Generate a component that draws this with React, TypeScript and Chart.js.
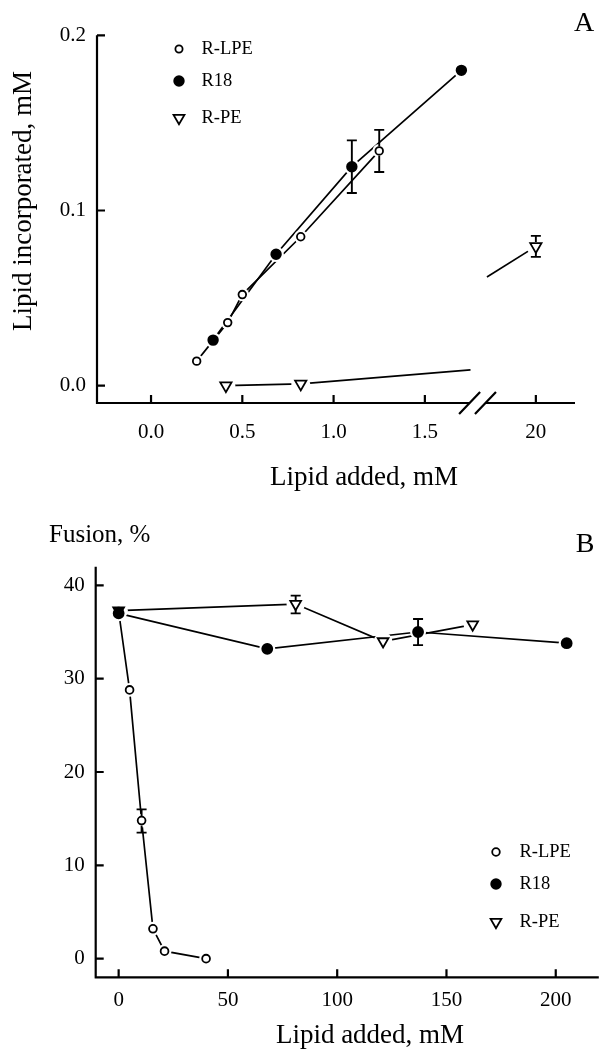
import React, { useEffect, useRef } from 'react';
import { Chart, registerables, LinearScale } from 'chart.js';

Chart.register(...registerables);

const FONT = '"Liberation Serif", "Times New Roman", Times, serif';
const SERIES_LABELS = ['R-LPE', 'R18', 'R-PE'];

// ---------------- Panel A data ----------------
const A_LPE_X = [0.25, 0.42, 0.5, 0.82, 1.25];
const A_LPE_Y = [0.014, 0.036, 0.052, 0.085, 0.134];
const A_R18_X = [0.34, 0.685, 1.1, 1.7];
const A_R18_Y = [0.026, 0.075, 0.125, 0.18];
const A_RPE_X = [0.41, 0.82, 20];
const A_RPE_Y = [0.0, 0.001, 0.0795];
const A_RPE_FIT_LEFT_X = [0.82, 1.75];
const A_RPE_FIT_LEFT_Y = [0.001, 0.009];
const A_RPE_FIT_RIGHT_X = [10, 20];
const A_RPE_FIT_RIGHT_Y = [0.062, 0.0795];
const A_ERR_X = [1.1, 1.25, 20];
const A_ERR_Y = [0.125, 0.134, 0.0795];
const A_ERR_D = [0.015, 0.012, 0.006];
const A_X_TICKS = [0, 0.5, 1.0, 1.5, 20];
const A_X_TICK_LABELS = ['0.0', '0.5', '1.0', '1.5', '20'];
const A_Y_TICKS = [0, 0.1, 0.2];
const A_Y_TICK_LABELS = ['0.0', '0.1', '0.2'];
const A_BREAK_GAP = [1.745, 9.7];
const A_X_RANGE = [-0.296, 28];

// ---------------- Panel B data ----------------
const B_LPE_X = [0, 5, 10.5, 15.7, 21, 40];
const B_LPE_Y = [37.2, 28.8, 14.8, 3.2, 0.8, 0.0];
const B_R18_X = [0, 68, 137, 205];
const B_R18_Y = [37.0, 33.2, 35.0, 33.8];
const B_RPE_X = [0, 81, 121, 162];
const B_RPE_Y = [37.3, 38.0, 34.0, 35.8];
const B_ERR_X = [10.5, 81, 137];
const B_ERR_Y = [14.75, 37.95, 35.0];
const B_ERR_D = [1.25, 0.95, 1.4];
const B_X_TICKS = [0, 50, 100, 150, 200];
const B_Y_TICKS = [0, 10, 20, 30, 40];

// ---------------- broken x scale (panel A) ----------------
const A_BREAK_AT = 1.78;
const A_X20_POS = 2.108;
const A_RIGHT_SCALE = 0.0268;
function brokenMap(v: number): number {
  return v <= A_BREAK_AT ? v : A_X20_POS + (v - 20) * A_RIGHT_SCALE;
}

class BrokenLinearScale extends (LinearScale as any) {
  static id = 'brokenLinear';
  static defaults = (LinearScale as any).defaults;
  parse(raw: any, index: number) {
    const v = super.parse(raw, index);
    return v === null || v === undefined ? v : brokenMap(v as number);
  }
}
Chart.register(BrokenLinearScale as any);

const pairs = (xs: number[], ys: number[]) => xs.map((x, i) => ({ x, y: ys[i] }));

type Kind = 'open' | 'filled' | 'tri';
const MARKER_BORDER = 1.8;

function seriesDatasets(
  lines: { x: number; y: number }[][],
  pts: { x: number; y: number }[],
  kind: Kind,
  r: number,
  top: number,
  fills?: string[]
) {
  const ds: any[] = [];
  lines.forEach((l) =>
    ds.push({
      data: l,
      showLine: true,
      borderColor: '#000',
      borderWidth: 1.7,
      pointRadius: 0,
      fill: false,
      clip: false,
      order: 10,
    })
  );
  ds.push({
    data: pts,
    showLine: false,
    pointRadius: r + 3,
    pointStyle: 'circle',
    pointBackgroundColor: '#fff',
    pointBorderColor: '#fff',
    pointBorderWidth: 0,
    clip: false,
    order: 5,
  });
  ds.push({
    data: pts,
    showLine: false,
    pointRadius: r,
    pointStyle: kind === 'tri' ? 'triangle' : 'circle',
    pointRotation: kind === 'tri' ? 180 : 0,
    pointBackgroundColor: fills ?? (kind === 'filled' ? '#000' : '#fff'),
    pointBorderColor: '#000',
    pointBorderWidth: MARKER_BORDER,
    clip: false,
    order: top,
  });
  return ds;
}

function drawMarker(ctx: CanvasRenderingContext2D, kind: Kind, x: number, y: number, r: number) {
  ctx.beginPath();
  if (kind === 'tri') {
    for (let k = 0; k < 3; k++) {
      const a = Math.PI + (k * 2 * Math.PI) / 3;
      const px = x + Math.sin(a) * r;
      const py = y - Math.cos(a) * r;
      if (k === 0) ctx.moveTo(px, py);
      else ctx.lineTo(px, py);
    }
    ctx.closePath();
  } else {
    ctx.arc(x, y, r, 0, Math.PI * 2);
  }
  ctx.fillStyle = kind === 'filled' ? '#000' : '#fff';
  ctx.fill();
  ctx.lineWidth = MARKER_BORDER;
  ctx.strokeStyle = '#000';
  ctx.stroke();
}

interface TextItem {
  text: string;
  x: number;
  y: number;
  size: number;
  align?: CanvasTextAlign;
  rotate?: boolean;
}

interface PanelCfg {
  name: string;
  breakGap?: number[];
  errX: number[];
  errY: number[];
  errD: number[];
  legend: { x: number; textX: number; ys: number[]; kinds: Kind[]; radii: number[]; size: number };
  texts: TextItem[];
}

function makePanelPlugin(cfg: PanelCfg) {
  return {
    id: 'panel' + cfg.name,
    afterDraw(chart: any) {
      const ctx: CanvasRenderingContext2D = chart.ctx;
      const ca = chart.chartArea;
      const xs = chart.scales.x;
      const ys = chart.scales.y;
      ctx.save();
      ctx.strokeStyle = '#000';
      ctx.lineWidth = 2.2;
      ctx.lineCap = 'butt';
      ctx.beginPath();
      ctx.moveTo(ca.left, ca.top);
      ctx.lineTo(ca.left, ca.bottom + 1);
      if (cfg.breakGap) {
        const g0 = xs.getPixelForValue(xs.parse(cfg.breakGap[0]));
        const g1 = xs.getPixelForValue(xs.parse(cfg.breakGap[1]));
        ctx.moveTo(ca.left - 1, ca.bottom);
        ctx.lineTo(g0, ca.bottom);
        ctx.moveTo(g1, ca.bottom);
        ctx.lineTo(ca.right, ca.bottom);
        [g0, g1].forEach((g) => {
          ctx.moveTo(g - 10.5, ca.bottom + 11);
          ctx.lineTo(g + 10.5, ca.bottom - 11);
        });
      } else {
        ctx.moveTo(ca.left - 1, ca.bottom);
        ctx.lineTo(ca.right, ca.bottom);
      }
      xs.ticks.forEach((t: any) => {
        const p = xs.getPixelForValue(t.value);
        ctx.moveTo(p, ca.bottom);
        ctx.lineTo(p, ca.bottom - 8);
      });
      ys.ticks.forEach((t: any) => {
        const p = ys.getPixelForValue(t.value);
        ctx.moveTo(ca.left, p);
        ctx.lineTo(ca.left + 8, p);
      });
      ctx.stroke();

      // error bars
      ctx.lineWidth = 1.9;
      ctx.beginPath();
      cfg.errX.forEach((ex, i) => {
        const px = xs.getPixelForValue(xs.parse(ex));
        const pc = ys.getPixelForValue(cfg.errY[i]);
        const p1 = ys.getPixelForValue(cfg.errY[i] + cfg.errD[i]);
        const p2 = ys.getPixelForValue(cfg.errY[i] - cfg.errD[i]);
        const gap = 4.5;
        ctx.moveTo(px, p1);
        ctx.lineTo(px, Math.min(pc - gap, p2));
        ctx.moveTo(px, Math.max(pc + gap, p1));
        ctx.lineTo(px, p2);
        ctx.moveTo(px - 5, p1);
        ctx.lineTo(px + 5, p1);
        ctx.moveTo(px - 5, p2);
        ctx.lineTo(px + 5, p2);
      });
      ctx.stroke();

      // legend
      const lg = cfg.legend;
      ctx.font = `${lg.size}px ${FONT}`;
      ctx.textBaseline = 'middle';
      ctx.textAlign = 'left';
      SERIES_LABELS.forEach((lab, i) => {
        drawMarker(ctx, lg.kinds[i], lg.x, lg.ys[i], lg.radii[i]);
        ctx.fillStyle = '#000';
        ctx.fillText(lab, lg.textX, lg.ys[i]);
      });

      // texts
      cfg.texts.forEach((t) => {
        ctx.save();
        ctx.font = `${t.size}px ${FONT}`;
        ctx.fillStyle = '#000';
        ctx.textBaseline = 'middle';
        ctx.textAlign = t.align ?? 'center';
        ctx.translate(t.x, t.y);
        if (t.rotate) ctx.rotate(-Math.PI / 2);
        ctx.fillText(t.text, 0, 0);
        ctx.restore();
      });
      ctx.restore();
    },
  };
}

const tickFont = { family: FONT, size: 21 };

function configA(): any {
  const datasets = [
    ...seriesDatasets([pairs(A_R18_X, A_R18_Y)], pairs(A_R18_X, A_R18_Y), 'filled', 4.8, 0),
    ...seriesDatasets([pairs(A_LPE_X, A_LPE_Y)], pairs(A_LPE_X, A_LPE_Y), 'open', 3.8, 1),
    ...seriesDatasets(
      [
        pairs([A_RPE_X[0], ...A_RPE_FIT_LEFT_X], [A_RPE_Y[0], ...A_RPE_FIT_LEFT_Y]),
        pairs(A_RPE_FIT_RIGHT_X, A_RPE_FIT_RIGHT_Y),
      ],
      pairs(A_RPE_X, A_RPE_Y),
      'tri',
      6.5,
      2
    ),
  ];
  return {
    type: 'scatter',
    data: { datasets },
    options: {
      animation: false,
      responsive: false,
      devicePixelRatio: 1,
      events: [],
      layout: { padding: { top: 35.3, right: 33, left: 0, bottom: 0 } },
      plugins: { legend: { display: false }, tooltip: { enabled: false } },
      scales: {
        x: {
          type: 'brokenLinear',
          bounds: 'data',
          afterDataLimits: (s: any) => {
            s.min = s.parse(A_X_RANGE[0]);
            s.max = s.parse(A_X_RANGE[1]);
          },
          afterBuildTicks: (s: any) => {
            s.min = s.parse(A_X_RANGE[0]);
            s.max = s.parse(A_X_RANGE[1]);
            s.ticks = A_X_TICKS.map((v) => ({ value: s.parse(v) }));
          },
          afterFit: (s: any) => {
            s.height = 97;
          },
          grid: { display: false, drawTicks: false },
          border: { display: false },
          ticks: {
            font: tickFont,
            color: '#000',
            padding: 17,
            autoSkip: false,
            maxRotation: 0,
            callback: (_v: any, i: number) => A_X_TICK_LABELS[i],
          },
        },
        y: {
          type: 'linear',
          min: -0.0099,
          max: 0.2,
          afterBuildTicks: (s: any) => {
            s.ticks = A_Y_TICKS.map((v) => ({ value: v }));
          },
          afterFit: (s: any) => {
            s.width = 97;
          },
          grid: { display: false, drawTicks: false },
          border: { display: false },
          ticks: {
            font: tickFont,
            color: '#000',
            padding: 11,
            autoSkip: false,
            callback: (_v: any, i: number) => A_Y_TICK_LABELS[i],
          },
        },
      },
    },
    plugins: [
      makePanelPlugin({
        name: 'A',
        breakGap: A_BREAK_GAP,
        errX: A_ERR_X,
        errY: A_ERR_Y,
        errD: A_ERR_D,
        legend: { x: 179, textX: 201.5, ys: [49, 81, 118], kinds: ['open', 'filled', 'tri'], radii: [3.6, 4.8, 6.3], size: 18.5 },
        texts: [
          { text: 'A', x: 584, y: 24, size: 28 },
          { text: 'Lipid incorporated, mM', x: 24, y: 201, size: 27, rotate: true },
          { text: 'Lipid added, mM', x: 364, y: 478, size: 27 },
        ],
      }),
    ],
  };
}

function configB(): any {
  const datasets = [
    ...seriesDatasets([pairs(B_R18_X, B_R18_Y)], pairs(B_R18_X, B_R18_Y), 'filled', 5, 0),
    ...seriesDatasets([pairs(B_LPE_X, B_LPE_Y)], pairs(B_LPE_X, B_LPE_Y), 'open', 3.9, 1),
    ...seriesDatasets([pairs(B_RPE_X, B_RPE_Y)], pairs(B_RPE_X, B_RPE_Y), 'tri', 6.2, 2, ['#000', '#fff', '#fff', '#fff']),
  ];
  return {
    type: 'scatter',
    data: { datasets },
    options: {
      animation: false,
      responsive: false,
      devicePixelRatio: 1,
      events: [],
      layout: { padding: { top: 66.7, right: 0, left: 0, bottom: 0 } },
      plugins: { legend: { display: false }, tooltip: { enabled: false } },
      scales: {
        x: {
          type: 'linear',
          min: -10.5,
          max: 219.7,
          afterBuildTicks: (s: any) => {
            s.ticks = B_X_TICKS.map((v) => ({ value: v }));
          },
          afterFit: (s: any) => {
            s.height = 71.7;
          },
          grid: { display: false, drawTicks: false },
          border: { display: false },
          ticks: {
            font: tickFont,
            color: '#000',
            padding: 11,
            autoSkip: false,
            maxRotation: 0,
            callback: (_v: any, i: number) => String(B_X_TICKS[i]),
          },
        },
        y: {
          type: 'linear',
          min: -2,
          max: 42,
          afterBuildTicks: (s: any) => {
            s.ticks = B_Y_TICKS.map((v) => ({ value: v }));
          },
          afterFit: (s: any) => {
            s.width = 95.7;
          },
          grid: { display: false, drawTicks: false },
          border: { display: false },
          ticks: {
            font: tickFont,
            color: '#000',
            padding: 11,
            autoSkip: false,
            callback: (_v: any, i: number) => String(B_Y_TICKS[i]),
          },
        },
      },
    },
    plugins: [
      makePanelPlugin({
        name: 'B',
        errX: B_ERR_X,
        errY: B_ERR_Y,
        errD: B_ERR_D,
        legend: { x: 496, textX: 519.5, ys: [352, 384, 422], kinds: ['open', 'filled', 'tri'], radii: [3.8, 4.8, 6.2], size: 18.5 },
        texts: [
          { text: 'B', x: 585, y: 45, size: 28 },
          { text: 'Fusion, %', x: 49, y: 35, size: 25, align: 'left' },
          { text: 'Lipid added, mM', x: 370, y: 536, size: 27 },
        ],
      }),
    ],
  };
}

export default function App() {
  const refA = useRef<HTMLCanvasElement>(null);
  const refB = useRef<HTMLCanvasElement>(null);
  useEffect(() => {
    const a = new Chart(refA.current as HTMLCanvasElement, configA());
    const b = new Chart(refB.current as HTMLCanvasElement, configB());
    return () => {
      a.destroy();
      b.destroy();
    };
  }, []);
  return (
    <div style={{ position: 'absolute', left: 0, top: 0, width: 608, height: 1049, background: '#fff' }}>
      <canvas ref={refA} width={608} height={500} style={{ position: 'absolute', left: 0, top: 0 }} />
      <canvas ref={refB} width={608} height={549} style={{ position: 'absolute', left: 0, top: 500 }} />
    </div>
  );
}
